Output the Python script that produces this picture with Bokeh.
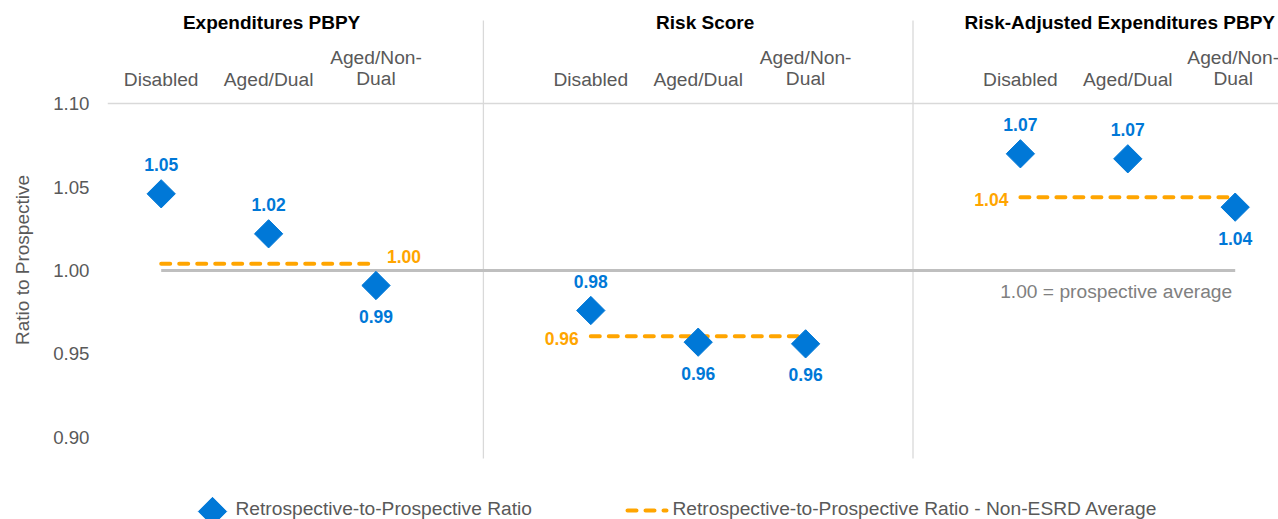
import numpy as np
from bokeh.plotting import figure
from bokeh.models import Range1d, FixedTicker, NumeralTickFormatter
from bokeh.core.properties import value
from bokeh.embed import file_html
from bokeh.resources import INLINE

# ---------------- data ----------------
panels = ["Expenditures PBPY", "Risk Score", "Risk-Adjusted Expenditures PBPY"]
categories = ["Disabled", "Aged/Dual", "Aged/Non-\nDual"]
ratio_expenditures = [1.046, 1.022, 0.991]
ratio_risk_score = [0.976, 0.957, 0.956]
ratio_risk_adjusted = [1.070, 1.067, 1.038]
non_esrd_average = [1.004, 0.9605, 1.044]
prospective_average = 1.00
y_ticks = [0.90, 0.95, 1.00, 1.05, 1.10]
series_names = ["Retrospective-to-Prospective Ratio",
                "Retrospective-to-Prospective Ratio - Non-ESRD Average"]
reference_note = "1.00 = prospective average"
y_title = "Ratio to Prospective"

# label placement (style)
point_label_side = ["above", "above", "below",
                    "above", "below", "below",
                    "above", "above", "below"]
avg_label_side = ["right", "left", "left"]
heading_nudge = [3, 7, -8]

# ---------------- style ----------------
FONT = "Liberation Sans"
BLUE = "#0078D7"
ORANGE = "#FFA500"
GRAY_TXT = "#595959"

W, H = 1278, 519
FRAME_LEFT = 107
PX_X = 107.4             # pixels per category step
PX_Y = 1667.0            # pixels per unit of ratio
Y110_PX = 103.3          # pixel row of the 1.10 tick
x_start = -0.5
x_end = x_start + (W - FRAME_LEFT) / PX_X
y_end = 1.10 + Y110_PX / PX_Y
y_start = y_end - H / PX_Y

def py(sy):
    return y_end - sy / PX_Y

def px(sx):
    return x_start + (sx - FRAME_LEFT) / PX_X

n_groups = len(panels)
n_cat = len(categories)
gap = 1
xs = [g * (n_cat + gap) + i for g in range(n_groups) for i in range(n_cat)]
ys = ratio_expenditures + ratio_risk_score + ratio_risk_adjusted
group_centers = [g * (n_cat + gap) + (n_cat - 1) / 2 for g in range(n_groups)]
group_starts = [g * (n_cat + gap) for g in range(n_groups)]
group_ends = [g * (n_cat + gap) + n_cat - 1 for g in range(n_groups)]
separators = [(group_ends[g] + group_starts[g + 1]) / 2 for g in range(n_groups - 1)]

p = figure(width=W, height=H, x_range=Range1d(x_start, x_end), y_range=Range1d(y_start, y_end),
           output_backend="svg", toolbar_location=None, x_axis_location=None,
           min_border_left=FRAME_LEFT, min_border_right=0, min_border_top=0, min_border_bottom=0)
p.outline_line_color = None
p.background_fill_color = "white"
p.border_fill_color = "white"
p.xgrid.visible = False
p.ygrid.ticker = FixedTicker(ticks=[1.10])
p.ygrid.grid_line_color = "#d9d9d9"
p.ygrid.grid_line_width = 1.5

ax = p.yaxis[0]
ax.ticker = FixedTicker(ticks=y_ticks)
ax.formatter = NumeralTickFormatter(format="0.00")
ax.axis_line_color = None
ax.major_tick_line_color = None
ax.minor_tick_line_color = None
ax.major_tick_out = 0
ax.major_tick_in = 0
ax.minor_tick_out = 0
ax.major_label_standoff = 18
ax.major_label_text_font = FONT
ax.major_label_text_font_size = "18.7px"
ax.major_label_text_color = GRAY_TXT
ax.axis_label = y_title
ax.axis_label_standoff = 17
ax.axis_label_text_font = FONT
ax.axis_label_text_font_style = "normal"
ax.axis_label_text_font_size = "19px"
ax.axis_label_text_color = GRAY_TXT

# separators between panels
p.segment(x0=separators, x1=separators, y0=py(458), y1=py(20), line_color="#d9d9d9", line_width=1.3)

# prospective average reference line
p.segment(x0=[group_starts[0]], x1=[group_ends[-1]], y0=[prospective_average], y1=[prospective_average],
          line_color="#bfbfbf", line_width=3)
p.text(x=[group_ends[-1]], y=[prospective_average], text=[reference_note],
       x_offset=-3, y_offset=21, text_align="right", text_baseline="middle",
       text_font=value(FONT), text_font_size="19.2px", text_color="#808080")

# non-ESRD averages (dashed)
p.segment(x0=group_starts, x1=group_ends, y0=non_esrd_average, y1=non_esrd_average,
          line_color=ORANGE, line_width=4, line_dash="9 9", line_cap="round")
avg_labels = ["%.2f" % v for v in non_esrd_average]
for g in range(n_groups):
    if avg_label_side[g] == "right":
        p.text(x=[group_ends[g]], y=[non_esrd_average[g]], text=[avg_labels[g]], x_offset=11, y_offset=-7,
               text_align="left", text_baseline="middle", text_font=value(FONT), text_font_style="bold",
               text_font_size="17.5px", text_color=ORANGE)
    else:
        p.text(x=[group_starts[g]], y=[non_esrd_average[g]], text=[avg_labels[g]], x_offset=-12, y_offset=2,
               text_align="right", text_baseline="middle", text_font=value(FONT), text_font_style="bold",
               text_font_size="17.5px", text_color=ORANGE)

# points
p.scatter(x=xs, y=ys, marker="square", angle=np.pi / 4, size=20, fill_color=BLUE, line_color=BLUE)
pt_labels = ["%.2f" % v for v in ys]
pt_offsets = [-29 if s == "above" else 31 for s in point_label_side]
p.text(x=xs, y=ys, text=pt_labels, y_offset=pt_offsets, text_align="center", text_baseline="middle",
       text_font=value(FONT), text_font_style="bold", text_font_size="17.5px", text_color=BLUE)

# panel headings and category labels
p.text(x=group_centers, y=[py(22)] * n_groups, text=panels, x_offset=heading_nudge,
       text_align="center", text_baseline="middle",
       text_font=value(FONT), text_font_style="bold", text_font_size="19px", text_color="#000000")
cat_nudge = [0] * (len(xs) - 1) + [-2]
p.text(x=xs, y=[py(89)] * len(xs), text=categories * n_groups, x_offset=cat_nudge,
       text_align="center", text_baseline="bottom",
       text_line_height=1.02, text_font=value(FONT), text_font_size="19.2px", text_color=GRAY_TXT)

# legend (drawn below the panels)
p.scatter(x=[px(212)], y=[py(511)], marker="square", angle=np.pi / 4, size=20,
          fill_color=BLUE, line_color=BLUE)
p.segment(x0=[px(627)], x1=[px(666)], y0=[py(510)], y1=[py(510)],
          line_color=ORANGE, line_width=4, line_dash="9 9", line_cap="round")
p.text(x=[px(235), px(672)], y=[py(508)] * 2, text=series_names, text_align="left",
       text_baseline="middle", text_font=value(FONT), text_font_size="19.2px", text_color=GRAY_TXT)

open("out.html", "w").write(file_html(p, INLINE))
